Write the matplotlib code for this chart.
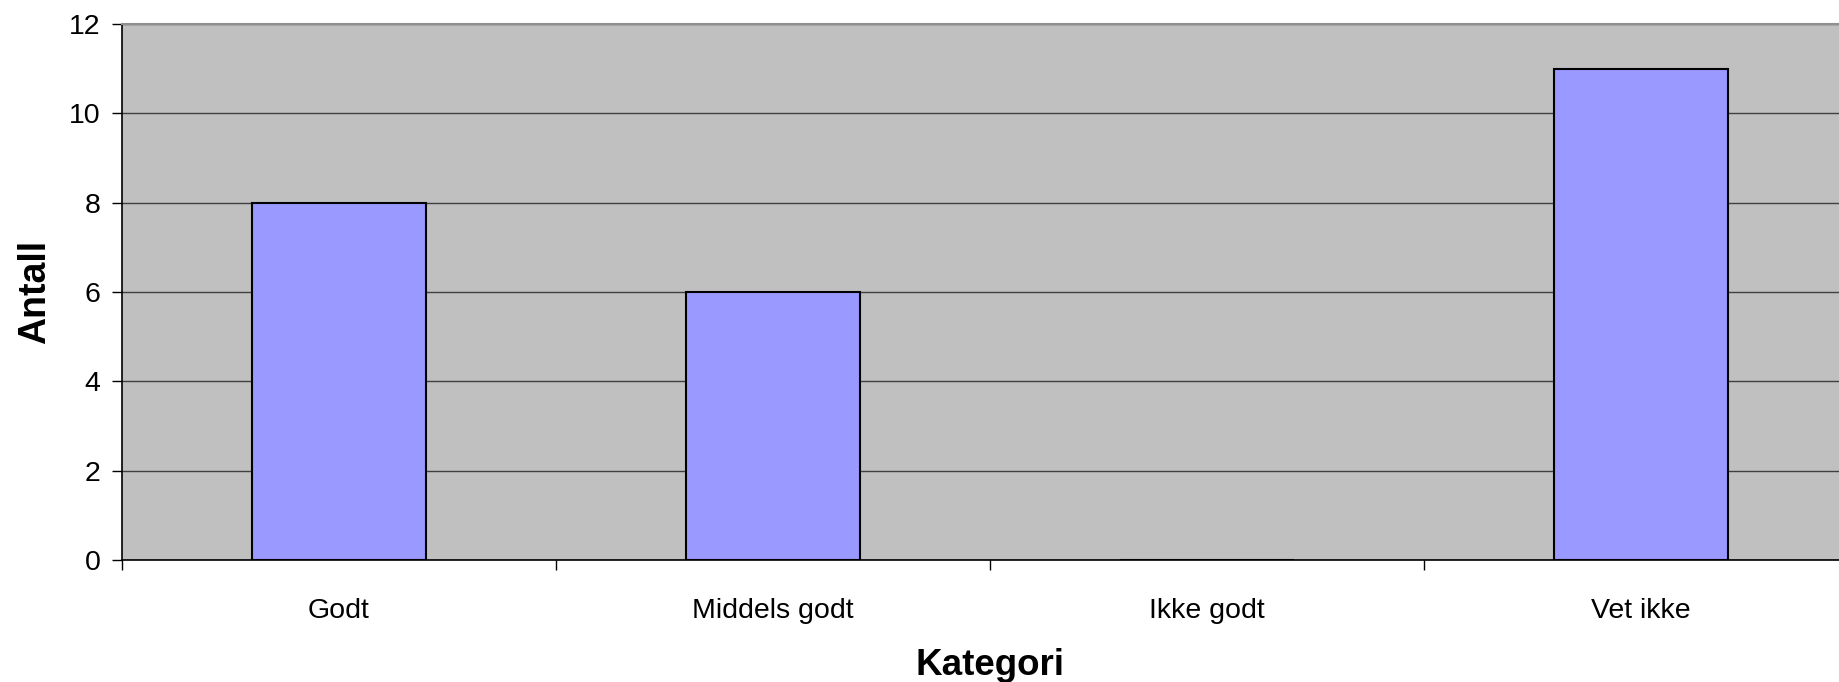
import matplotlib.pyplot as plt
import numpy as np

plt.rcParams['font.family'] = ['Liberation Sans', 'DejaVu Sans']

categories = ['Godt', 'Middels godt', 'Ikke godt', 'Vet ikke']
antall = [8, 6, 0, 11]
yticks = [0, 2, 4, 6, 8, 10, 12]

W, H = 1839, 682
fig = plt.figure(figsize=(W / 100, H / 100), dpi=100)
# plot area runs a bit past the right edge, like the original
ax = fig.add_axes([122 / W, (H - 560) / H, 1736 / W, 536 / H])
ax.set_facecolor('#c0c0c0')

x = np.arange(len(categories))
ax.bar(x, antall, width=0.403, color='#9999ff', edgecolor='black', linewidth=1.5, zorder=3)

ax.set_xlim(-0.5, len(categories) - 0.5)
ax.set_ylim(0, 12)
ax.set_yticks(yticks)
ax.yaxis.grid(True, color='#404040', linewidth=1.0, zorder=1)
ax.set_axisbelow(True)

# category ticks sit between the bars
ax.set_xticks(np.arange(len(categories) + 1) - 0.5)
ax.set_xticklabels([])
ax.set_xticks(x, minor=True)
ax.set_xticklabels(categories, minor=True, fontsize=20.5)
ax.tick_params(axis='x', which='minor', length=0, pad=27)
ax.tick_params(axis='x', which='major', length=7.5, width=1, color='black')
ax.tick_params(axis='y', length=7.5, width=1, pad=8, labelsize=20.5)

for s in ['left', 'bottom']:
    ax.spines[s].set_color('black')
    ax.spines[s].set_linewidth(1.2)
ax.spines['top'].set_color('#909090')
ax.spines['top'].set_linewidth(1.5)
ax.spines['right'].set_visible(False)

ax.set_xlabel('Kategori', fontsize=26.5, fontweight='bold', va='center')
ax.xaxis.set_label_coords(0.5, -0.197)
ax.set_ylabel('Antall', fontsize=27, fontweight='bold', va='center')
ax.yaxis.set_label_coords(-0.0501, 0.5)

fig.savefig('out.png', dpi=100, facecolor='white')
